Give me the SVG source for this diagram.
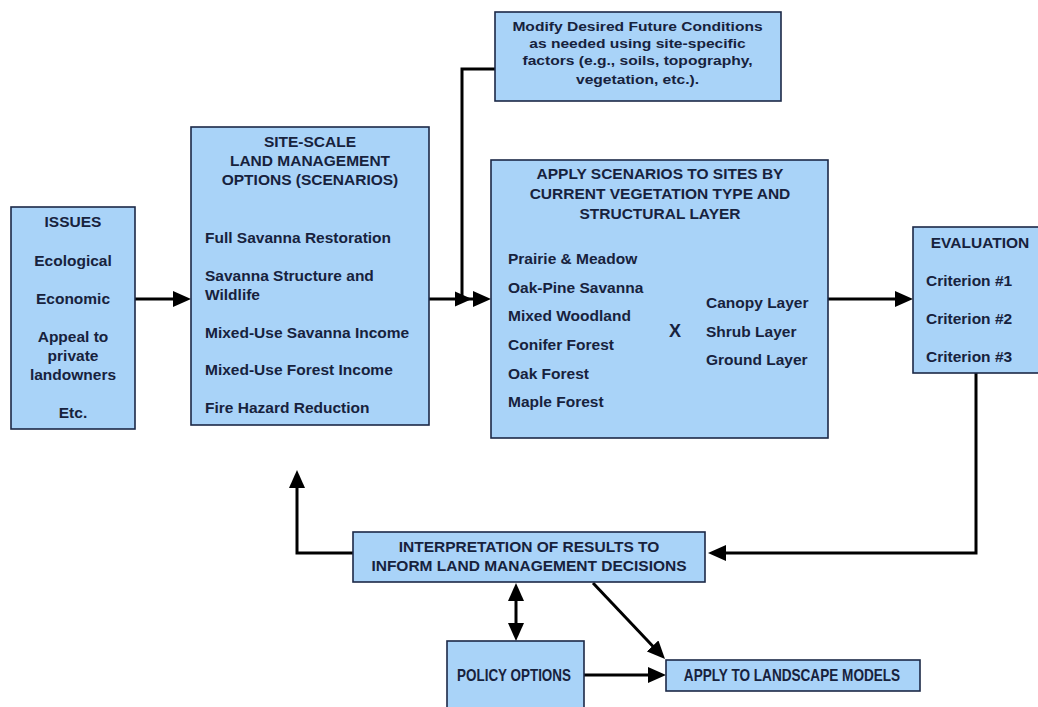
<svg xmlns="http://www.w3.org/2000/svg" width="1038" height="707" viewBox="0 0 1038 707">
<style>
.box{fill:#a9d3f8;stroke:#1c2947;stroke-width:1.6}
text{font-family:"Liberation Sans",Arial,sans-serif;font-weight:bold;font-size:15.5px;fill:#17223d}
.c{text-anchor:middle}
.sm{font-size:13px}
.bt{font-size:16px}
.conn{fill:none;stroke:#000;stroke-width:3}
</style>
<defs>
<marker id="ah" viewBox="0 0 18 16" refX="10" refY="8" markerWidth="18" markerHeight="16" markerUnits="userSpaceOnUse" orient="auto-start-reverse">
<path d="M0,0 L18,8 L0,16 Z" fill="#000"/>
</marker>
</defs>
<rect width="1038" height="707" fill="#fff"/>

<g id="connectors">
<line class="conn" x1="135" y1="299" x2="183" y2="299" marker-end="url(#ah)"/>
<line class="conn" x1="429" y1="299" x2="483" y2="299" marker-end="url(#ah)"/>
<polygon points="455,291.5 472,299 455,306.5" fill="#000"/>
<path class="conn" d="M495,69 H462 V299"/>
<line class="conn" x1="828" y1="299" x2="905" y2="299" marker-end="url(#ah)"/>
<path class="conn" d="M976,373 V553 H716" marker-end="url(#ah)"/>
<path class="conn" d="M353,553 H297 V478" marker-end="url(#ah)"/>
<line class="conn" x1="516" y1="591" x2="516" y2="633" marker-start="url(#ah)" marker-end="url(#ah)"/>
<line class="conn" x1="593" y1="583" x2="659.5" y2="653.2" marker-end="url(#ah)"/>
<line class="conn" x1="584" y1="675" x2="658" y2="675" marker-end="url(#ah)"/>
</g>

<g id="issues">
<rect class="box" x="11" y="207" width="124" height="222"/>
<text class="c" x="73" y="227">ISSUES</text>
<text class="c" x="73" y="266">Ecological</text>
<text class="c" x="73" y="304">Economic</text>
<text class="c" x="73" y="342">Appeal to</text>
<text class="c" x="73" y="361">private</text>
<text class="c" x="73" y="380">landowners</text>
<text class="c" x="73" y="418">Etc.</text>
</g>

<g id="site-scale">
<rect class="box" x="191" y="127" width="238" height="298"/>
<text class="c" x="310" y="147">SITE-SCALE</text>
<text class="c" x="310" y="166">LAND MANAGEMENT</text>
<text class="c" x="310" y="185">OPTIONS (SCENARIOS)</text>
<text x="205" y="242.5">Full Savanna Restoration</text>
<text x="205" y="280.5">Savanna Structure and</text>
<text x="205" y="299.5">Wildlife</text>
<text x="205" y="337.5">Mixed-Use Savanna Income</text>
<text x="205" y="374.5">Mixed-Use Forest Income</text>
<text x="205" y="412.5">Fire Hazard Reduction</text>
</g>

<g id="modify">
<rect class="box" x="495" y="12" width="286" height="89"/>
<g transform="translate(637.5,0) scale(1.2,1)">
<text class="c sm" x="0" y="31.5">Modify Desired Future Conditions</text>
<text class="c sm" x="0" y="48.5">as needed using site-specific</text>
<text class="c sm" x="0" y="65.5">factors (e.g., soils, topography,</text>
<text class="c sm" x="0" y="84">vegetation, etc.).</text>
</g>
</g>

<g id="apply">
<rect class="box" x="491" y="160" width="337" height="278"/>
<text class="c" x="660" y="178.5">APPLY SCENARIOS TO SITES BY</text>
<text class="c" x="660" y="198.5">CURRENT VEGETATION TYPE AND</text>
<text class="c" x="660" y="218.5">STRUCTURAL LAYER</text>
<text x="508" y="263.5">Prairie &amp; Meadow</text>
<text x="508" y="292.5">Oak-Pine Savanna</text>
<text x="508" y="320.5">Mixed Woodland</text>
<text x="508" y="349.5">Conifer Forest</text>
<text x="508" y="378.5">Oak Forest</text>
<text x="508" y="406.5">Maple Forest</text>
<text class="c" x="675" y="337" style="font-size:18px">X</text>
<text x="706" y="307.5">Canopy Layer</text>
<text x="706" y="336.5">Shrub Layer</text>
<text x="706" y="364.5">Ground Layer</text>
</g>

<g id="evaluation">
<rect class="box" x="913" y="227" width="130" height="146"/>
<text class="c" x="980" y="247.5">EVALUATION</text>
<text x="926" y="285.5">Criterion #1</text>
<text x="926" y="323.5">Criterion #2</text>
<text x="926" y="361.5">Criterion #3</text>
</g>

<g id="interpretation">
<rect class="box" x="353" y="532" width="352" height="50"/>
<text class="c" x="529" y="551.5">INTERPRETATION OF RESULTS TO</text>
<text class="c" x="529" y="570.5">INFORM LAND MANAGEMENT DECISIONS</text>
</g>

<g id="policy">
<rect class="box" x="447" y="641" width="137" height="75"/>
<g transform="translate(514,0) scale(0.84,1)">
<text class="c bt" x="0" y="681">POLICY OPTIONS</text>
</g>
</g>

<g id="landscape">
<rect class="box" x="666" y="660" width="254" height="31"/>
<g transform="translate(792,0) scale(0.85,1)">
<text class="c bt" x="0" y="681">APPLY TO LANDSCAPE MODELS</text>
</g>
</g>
</svg>
